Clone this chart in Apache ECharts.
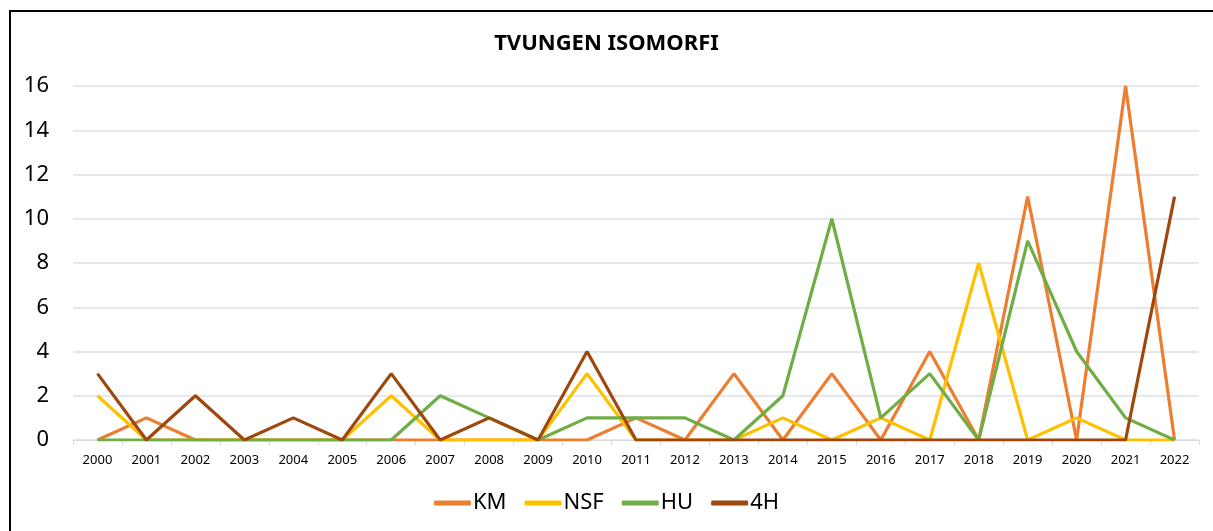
<!DOCTYPE html>
<html>
<head>
<meta charset="utf-8">
<script src="https://cdn.jsdelivr.net/npm/echarts@6/dist/echarts.min.js"></script>
<style>
  html, body { margin: 0; padding: 0; background: #fff; }
  #chart { width: 1213px; height: 531px; }
  .frame {
    position: absolute;
    left: 9px;
    top: 10px;
    width: 1300px;
    height: 600px;
    border-left: 2px solid #000;
    border-top: 2px solid #000;
    pointer-events: none;
  }
</style>
</head>
<body>
<div id="chart"></div>
<div class="frame"></div>
<script>
const years = ['2000', '2001', '2002', '2003', '2004', '2005', '2006', '2007', '2008', '2009', '2010', '2011',
  '2012', '2013', '2014', '2015', '2016', '2017', '2018', '2019', '2020', '2021', '2022']

const km = [0, 1, 0, 0, 0, 0, 0, 0, 0, 0, 0, 1, 0, 3, 0, 3, 0, 4, 0, 11, 0, 16, 0]
const nsf = [2, 0, 0, 0, 0, 0, 2, 0, 0, 0, 3, 0, 0, 0, 1, 0, 1, 0, 8, 0, 1, 0, 0]
const hu = [0, 0, 0, 0, 0, 0, 0, 2, 1, 0, 1, 1, 1, 0, 2, 10, 1, 3, 0, 9, 4, 1, 0]
const fourH = [3, 0, 2, 0, 1, 0, 3, 0, 1, 0, 4, 0, 0, 0, 0, 0, 0, 0, 0, 0, 0, 0, 11]

const seriesNames = ['KM', 'NSF', 'HU', '4H']
const seriesColors = ['#ED7D31', '#FFC000', '#70AD47', '#9E480E']

const FONT = 'Noto Sans, Open Sans, sans-serif'

function makeLine(name, data, color) {
  return {
    name,
    type: 'line',
    data,
    symbol: 'none',
    smooth: false,
    lineStyle: { width: 3.2, color },
    itemStyle: { color },
    emphasis: { disabled: true }
  }
}

const chart = echarts.init(document.getElementById('chart'), null, { renderer: 'canvas' })

chart.setOption({
  animation: false,
  textStyle: { fontFamily: FONT },
  title: {
    text: 'TVUNGEN ISOMORFI',
    left: 'center',
    top: 28,
    textStyle: {
      color: '#000',
      fontSize: 22,
      fontWeight: 'bold',
      fontFamily: FONT
    }
  },
  legend: {
    bottom: 12,
    left: 'center',
    icon: 'roundRect',
    itemWidth: 37,
    itemHeight: 5,
    itemGap: 18,
    data: seriesNames,
    textStyle: {
      color: '#000',
      fontSize: 22,
      fontFamily: FONT,
      padding: [0, 0, 0, -3]
    }
  },
  grid: {
    top: 86,
    left: 73,
    right: 14,
    bottom: 91
  },
  xAxis: {
    type: 'category',
    data: years,
    boundaryGap: true,
    axisLine: { lineStyle: { color: '#D9D9D9', width: 1 } },
    axisTick: { show: true, length: 5, lineStyle: { color: '#D9D9D9' } },
    axisLabel: {
      color: '#000',
      fontSize: 13,
      margin: 14,
      interval: 0,
      fontFamily: FONT
    },
    splitLine: { show: false }
  },
  yAxis: {
    type: 'value',
    min: 0,
    max: 16,
    interval: 2,
    axisLine: { show: false },
    axisTick: { show: false },
    axisLabel: {
      color: '#000',
      fontSize: 22,
      margin: 24,
      fontFamily: FONT
    },
    splitLine: { lineStyle: { color: '#DDE2EA', width: 1.5 } }
  },
  series: [
    makeLine(seriesNames[0], km, seriesColors[0]),
    makeLine(seriesNames[1], nsf, seriesColors[1]),
    makeLine(seriesNames[2], hu, seriesColors[2]),
    makeLine(seriesNames[3], fourH, seriesColors[3])
  ]
})
</script>
</body>
</html>
